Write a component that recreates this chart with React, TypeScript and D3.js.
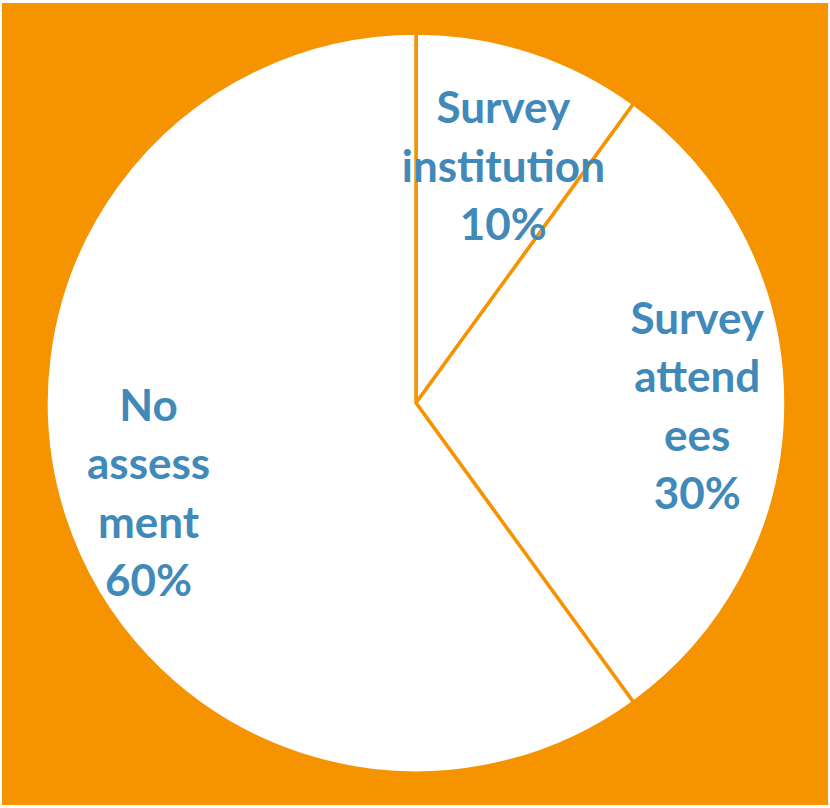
import React, { useEffect, useRef } from 'react';
import * as d3 from 'd3';

const WIDTH = 830;
const HEIGHT = 808;

const categories = ['Survey institution', 'Survey attendees', 'No assessment'];
const values = [10, 30, 60];
// how the labels wrap inside the slices
const labelLines = [
  ['Survey', 'institution', '10%'],
  ['Survey', 'attend', 'ees', '30%'],
  ['No', 'assess', 'ment', '60%'],
];

const ORANGE = '#F59300';
const TEXT_BLUE = '#4189B8';

export default function App() {
  const ref = useRef<SVGSVGElement>(null);

  useEffect(() => {
    if (!ref.current) return;
    const svg = d3.select(ref.current);
    svg.selectAll('*').remove();

    const cx = 416;
    const cy = 403;
    const radius = 370;

    svg
      .append('rect')
      .attr('x', 2)
      .attr('y', 3)
      .attr('width', 826)
      .attr('height', 802)
      .attr('fill', ORANGE);

    const pie = d3
      .pie<number>()
      .sort(null)
      .value((d) => d);

    const arcs = pie(values);

    const arc = d3.arc<d3.PieArcDatum<number>>().innerRadius(0).outerRadius(radius);

    const g = svg.append('g').attr('transform', `translate(${cx},${cy})`);

    g.selectAll('path')
      .data(arcs)
      .enter()
      .append('path')
      .attr('d', arc)
      .attr('fill', '#ffffff')
      .attr('stroke', ORANGE)
      .attr('stroke-width', 3.5)
      .attr('stroke-linejoin', 'round');

    // label radius, pulled in a bit for the narrow slice
    const labelRadius = (d: d3.PieArcDatum<number>) =>
      d.endAngle - d.startAngle < 1 ? radius * 0.69 : radius * 0.76;

    const lineH = 58.5;

    const labels = g
      .selectAll('text.label')
      .data(arcs)
      .enter()
      .append('text')
      .attr('class', 'label')
      .attr('text-anchor', 'middle')
      .style('font-family', 'Lato, "Open Sans", sans-serif')
      .style('font-weight', '700')
      .style('font-size', '44px')
      .style('fill', TEXT_BLUE)
      .attr('aria-label', (d, i) => categories[i]);

    labels.each(function (d, i) {
      const r = labelRadius(d);
      // the small slice label sits a little past its bisector, as in the original
      const mid = (d.startAngle + d.endAngle) / 2 + (d.endAngle - d.startAngle < 1 ? 0.035 : 0);
      const x = r * Math.sin(mid);
      const y = -r * Math.cos(mid);
      const lines = labelLines[i];
      const top = y - ((lines.length - 1) * lineH) / 2;
      const t = d3.select(this);
      lines.forEach((line, k) => {
        t.append('tspan')
          .attr('x', x)
          .attr('y', top + k * lineH)
          .attr('dy', '0.42em')
          .text(line);
      });
    });
  }, []);

  return (
    <svg
      ref={ref}
      width={WIDTH}
      height={HEIGHT}
      style={{ position: 'absolute', left: 0, top: 0, display: 'block' }}
    />
  );
}
